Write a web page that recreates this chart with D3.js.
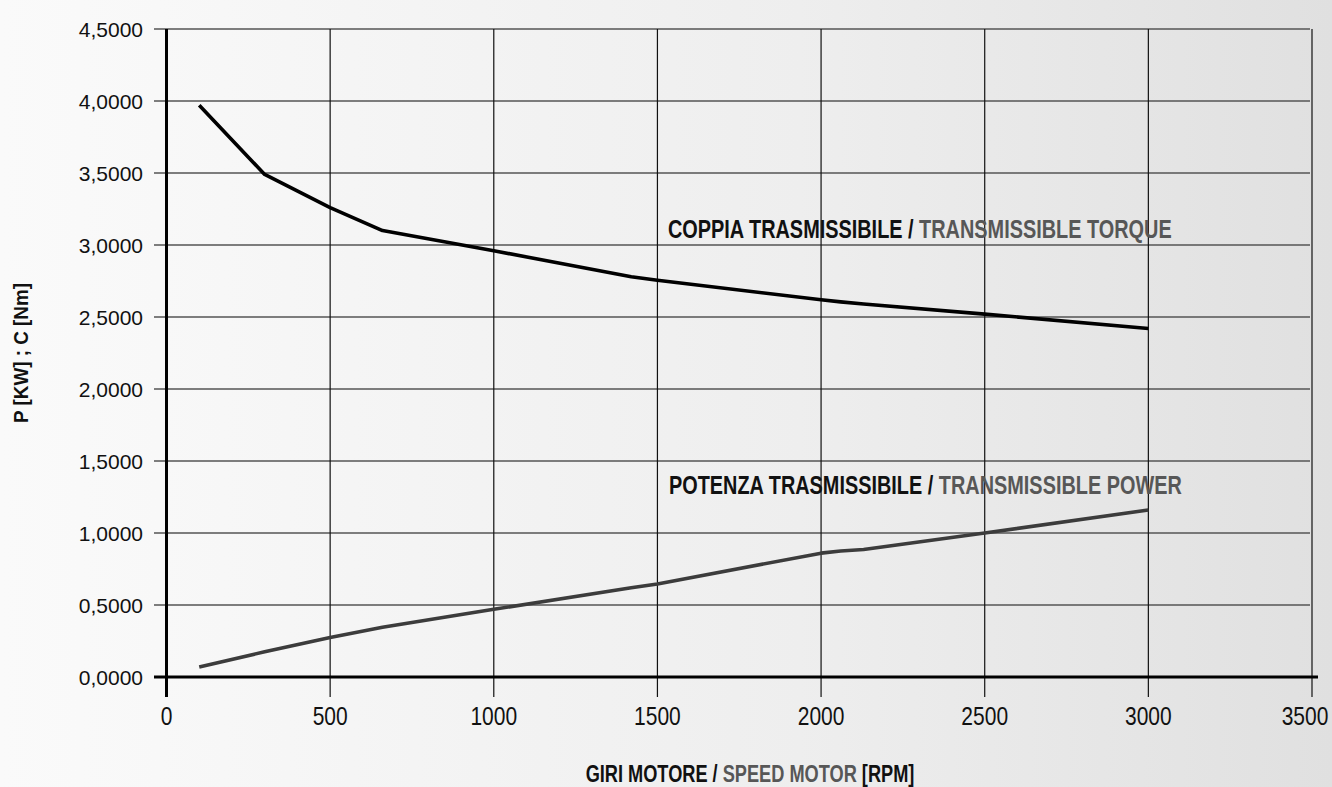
<!DOCTYPE html>
<html>
<head>
<meta charset="utf-8">
<script src="https://cdn.jsdelivr.net/npm/d3@7/dist/d3.min.js"></script>
<style>
  html, body { margin: 0; padding: 0; background: #f7f7f7; }
  svg { display: block; }
  .tick-label { font-family: "Liberation Sans", Arial, sans-serif; font-size: 21px; fill: #111; }
  .title { font-family: "Liberation Sans", Arial, sans-serif; font-weight: bold; }
</style>
</head>
<body>
<svg id="chart" width="1332" height="787"></svg>
<script>
// speed (rpm) at which the curves were sampled
const rpm = [100, 300, 500, 660, 1000, 1420, 1500, 2000, 2060, 2130, 2500, 3000];
// transmissible torque [Nm]
const torque = [3.97, 3.49, 3.26, 3.10, 2.96, 2.78, 2.755, 2.62, 2.605, 2.59, 2.52, 2.42];
// transmissible power [kW]
const power = [0.07, 0.175, 0.275, 0.345, 0.47, 0.62, 0.646, 0.86, 0.875, 0.885, 1.0, 1.16];

const xTicks = [0, 500, 1000, 1500, 2000, 2500, 3000, 3500];
const yTicks = [0, 0.5, 1, 1.5, 2, 2.5, 3, 3.5, 4, 4.5];

const svg = d3.select('#chart');

const defs = svg.append('defs');
const grad = defs.append('linearGradient')
    .attr('id', 'bg')
    .attr('x1', '0').attr('x2', '1').attr('y1', '0').attr('y2', '0');
grad.append('stop').attr('offset', '0').attr('stop-color', '#fafafa');
grad.append('stop').attr('offset', '0.12').attr('stop-color', '#f8f8f8');
grad.append('stop').attr('offset', '0.6').attr('stop-color', '#eeeeee');
grad.append('stop').attr('offset', '1').attr('stop-color', '#e0e0e0');

svg.append('rect')
    .attr('width', 1332).attr('height', 787)
    .attr('fill', 'url(#bg)');

const x = d3.scaleLinear().domain([0, 3500]).range([166.5, 1312]);
const y = d3.scaleLinear().domain([0, 4.5]).range([677, 29]);

const comma = d3.formatLocale({decimal: ',', thousands: '.', grouping: [3], currency: ['', '']});
const fmtY = comma.format('.4f');

// horizontal grid lines
svg.append('g')
    .selectAll('line')
    .data(yTicks.filter(d => d > 0))
    .enter()
    .append('line')
    .attr('x1', 154)
    .attr('x2', 1310)
    .attr('y1', d => y(d))
    .attr('y2', d => y(d))
    .attr('stroke', '#555')
    .attr('stroke-width', 1.6);

// vertical grid lines
svg.append('g')
    .selectAll('line')
    .data(xTicks.filter(d => d > 0))
    .enter()
    .append('line')
    .attr('x1', d => x(d))
    .attr('x2', d => x(d))
    .attr('y1', y(4.5))
    .attr('y2', 697)
    .attr('stroke', '#111')
    .attr('stroke-width', 1.2);

// axes
svg.append('line')
    .attr('x1', x(0)).attr('x2', x(0))
    .attr('y1', y(4.5)).attr('y2', 697)
    .attr('stroke', '#000').attr('stroke-width', 3);
svg.append('line')
    .attr('x1', 154).attr('x2', 1318)
    .attr('y1', y(0)).attr('y2', y(0))
    .attr('stroke', '#000').attr('stroke-width', 3);

// tick labels
svg.append('g')
    .selectAll('text')
    .data(yTicks)
    .enter()
    .append('text')
    .attr('class', 'tick-label')
    .attr('x', 143)
    .attr('y', d => y(d))
    .attr('dy', '0.36em')
    .attr('text-anchor', 'end')
    .text(d => fmtY(d));

svg.append('g')
    .selectAll('text')
    .data(xTicks)
    .enter()
    .append('text')
    .attr('class', 'tick-label')
    .attr('transform', d => 'translate(' + Math.min(x(d), 1305) + ',725) scale(1,1.2)')
    .attr('text-anchor', 'middle')
    .text(d => d);

// curves
const line = d3.line()
    .x(d => x(d[0]))
    .y(d => y(d[1]));

svg.append('path')
    .datum(rpm.map((r, i) => [r, torque[i]]))
    .attr('d', line)
    .attr('fill', 'none')
    .attr('stroke', '#000')
    .attr('stroke-width', 3.6)
    .attr('stroke-linejoin', 'round');

svg.append('path')
    .datum(rpm.map((r, i) => [r, power[i]]))
    .attr('d', line)
    .attr('fill', 'none')
    .attr('stroke', '#3c3c3c')
    .attr('stroke-width', 3.6)
    .attr('stroke-linejoin', 'round');

// series titles: bold text squeezed horizontally to look condensed
function twoTone(px, py, rot, size, width, anchor, parts) {
    const g = svg.append('g');
    const t = g.append('text')
        .attr('class', 'title')
        .style('font-size', size + 'px')
        .attr('text-anchor', anchor);
    parts.forEach(p => t.append('tspan').attr('fill', p[1]).text(p[0]));
    const sx = width / t.node().getComputedTextLength();
    g.attr('transform', 'translate(' + px + ',' + py + ') rotate(' + rot + ') scale(' + sx + ',1)');
}

twoTone(668, 238, 0, 25, 504, 'start',
    [['COPPIA TRASMISSIBILE / ', '#111'], ['TRANSMISSIBLE TORQUE', '#575757']]);

twoTone(669, 494, 0, 25, 513, 'start',
    [['POTENZA TRASMISSIBILE / ', '#111'], ['TRANSMISSIBLE POWER', '#575757']]);

twoTone(750, 782, 0, 24, 329, 'middle',
    [['GIRI MOTORE / ', '#111'], ['SPEED MOTOR ', '#575757'], ['[RPM]', '#111']]);

twoTone(28, 353, -90, 20, 140, 'middle',
    [['P [KW] ; C [Nm]', '#111']]);
</script>
</body>
</html>
